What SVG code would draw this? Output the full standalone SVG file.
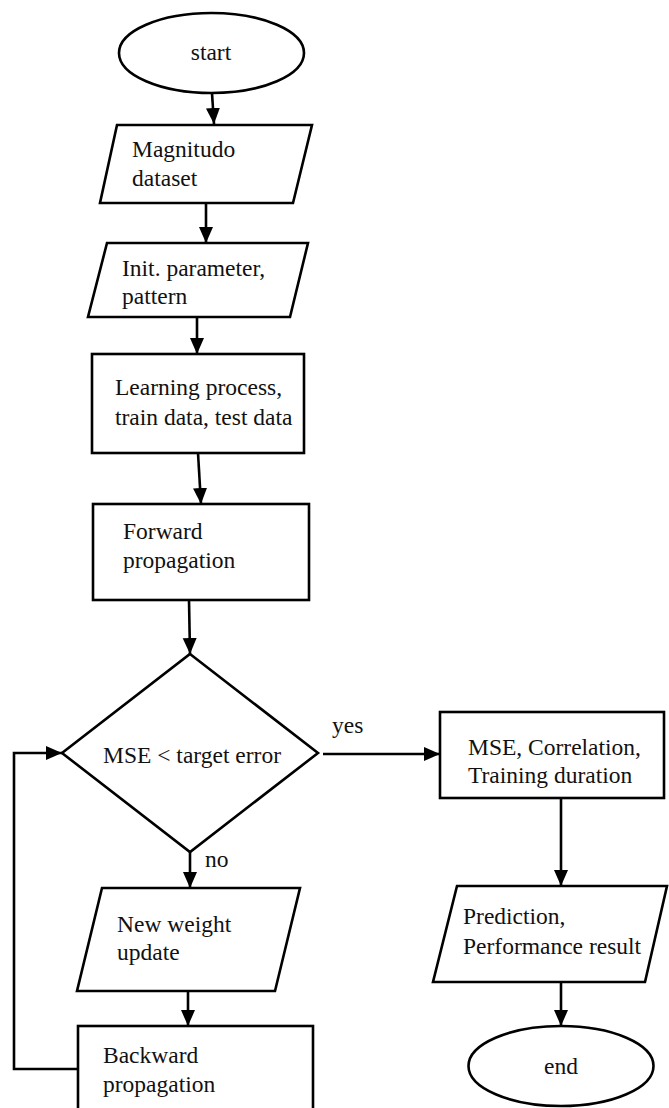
<svg xmlns="http://www.w3.org/2000/svg" width="669" height="1108" viewBox="0 0 669 1108">
  <style>
    .shape { fill: #ffffff; stroke: #000000; stroke-width: 2.6; }
    .edge { fill: none; stroke: #000000; stroke-width: 2.6; }
    .label { font-family: "Liberation Serif", "Times New Roman", serif; font-size: 23.5px; fill: #111111; }
    .mid { text-anchor: middle; }
  </style>
  <defs>
    <marker id="arrow" markerUnits="userSpaceOnUse" markerWidth="17" markerHeight="15" refX="16" refY="7" orient="auto">
      <path d="M0,0 L16,7 L0,14 z" fill="#000000"/>
    </marker>
  </defs>

  <rect width="669" height="1108" fill="#ffffff"/>

  <!-- connectors -->
  <g id="connectors">
    <line class="edge" x1="212" y1="93" x2="214" y2="124" marker-end="url(#arrow)"/>
    <line class="edge" x1="206" y1="203" x2="206" y2="243" marker-end="url(#arrow)"/>
    <line class="edge" x1="197" y1="317" x2="197" y2="354" marker-end="url(#arrow)"/>
    <line class="edge" x1="198" y1="453" x2="201" y2="504" marker-end="url(#arrow)"/>
    <line class="edge" x1="189" y1="600" x2="190" y2="654" marker-end="url(#arrow)"/>
    <line class="edge" x1="323" y1="754" x2="440" y2="754" marker-end="url(#arrow)"/>
    <line class="edge" x1="190" y1="852" x2="190" y2="888" marker-end="url(#arrow)"/>
    <line class="edge" x1="188" y1="991" x2="188" y2="1026" marker-end="url(#arrow)"/>
    <path class="edge" d="M78,1069 H14 V753 H62" marker-end="url(#arrow)"/>
    <line class="edge" x1="561" y1="798" x2="561" y2="886" marker-end="url(#arrow)"/>
    <line class="edge" x1="561" y1="982" x2="561" y2="1026" marker-end="url(#arrow)"/>
    <text class="label" x="332" y="733">yes</text>
    <text class="label" x="205" y="867">no</text>
  </g>

  <g id="start">
    <ellipse class="shape" cx="211.5" cy="53" rx="92.5" ry="40"/>
    <text class="label mid" x="211" y="60">start</text>
  </g>

  <g id="magnitudo-dataset">
    <polygon class="shape" points="117,125 312,125 293,203 100,203"/>
    <text class="label" x="132" y="157">Magnitudo</text>
    <text class="label" x="132" y="186">dataset</text>
  </g>

  <g id="init-parameter">
    <polygon class="shape" points="107,243 308,243 290,317 88,317"/>
    <text class="label" x="122" y="276">Init. parameter,</text>
    <text class="label" x="122" y="304">pattern</text>
  </g>

  <g id="learning-process">
    <rect class="shape" x="92" y="354" width="212" height="99"/>
    <text class="label" x="115" y="395">Learning process,</text>
    <text class="label" x="115" y="425">train data, test data</text>
  </g>

  <g id="forward-propagation">
    <rect class="shape" x="93" y="504" width="216" height="96"/>
    <text class="label" x="123" y="539">Forward</text>
    <text class="label" x="123" y="568">propagation</text>
  </g>

  <g id="mse-check">
    <polygon class="shape" points="190,654 318,753 190,852 62,753"/>
    <text class="label mid" x="192" y="763">MSE &lt; target error</text>
  </g>

  <g id="new-weight-update">
    <polygon class="shape" points="102,888 300,888 275,991 77,991"/>
    <text class="label" x="117" y="932">New weight</text>
    <text class="label" x="117" y="960">update</text>
  </g>

  <g id="backward-propagation">
    <rect class="shape" x="78" y="1026" width="235" height="100"/>
    <text class="label" x="103" y="1063">Backward</text>
    <text class="label" x="103" y="1092">propagation</text>
  </g>

  <g id="results">
    <rect class="shape" x="440" y="712" width="224" height="86"/>
    <text class="label" x="468" y="755">MSE, Correlation,</text>
    <text class="label" x="468" y="783">Training duration</text>
  </g>

  <g id="prediction">
    <polygon class="shape" points="457,886 667,886 645,982 433,982"/>
    <text class="label" x="463" y="924">Prediction,</text>
    <text class="label" x="463" y="954">Performance result</text>
  </g>

  <g id="end">
    <ellipse class="shape" cx="561" cy="1066" rx="92.5" ry="40"/>
    <text class="label mid" x="561" y="1074">end</text>
  </g>
</svg>
